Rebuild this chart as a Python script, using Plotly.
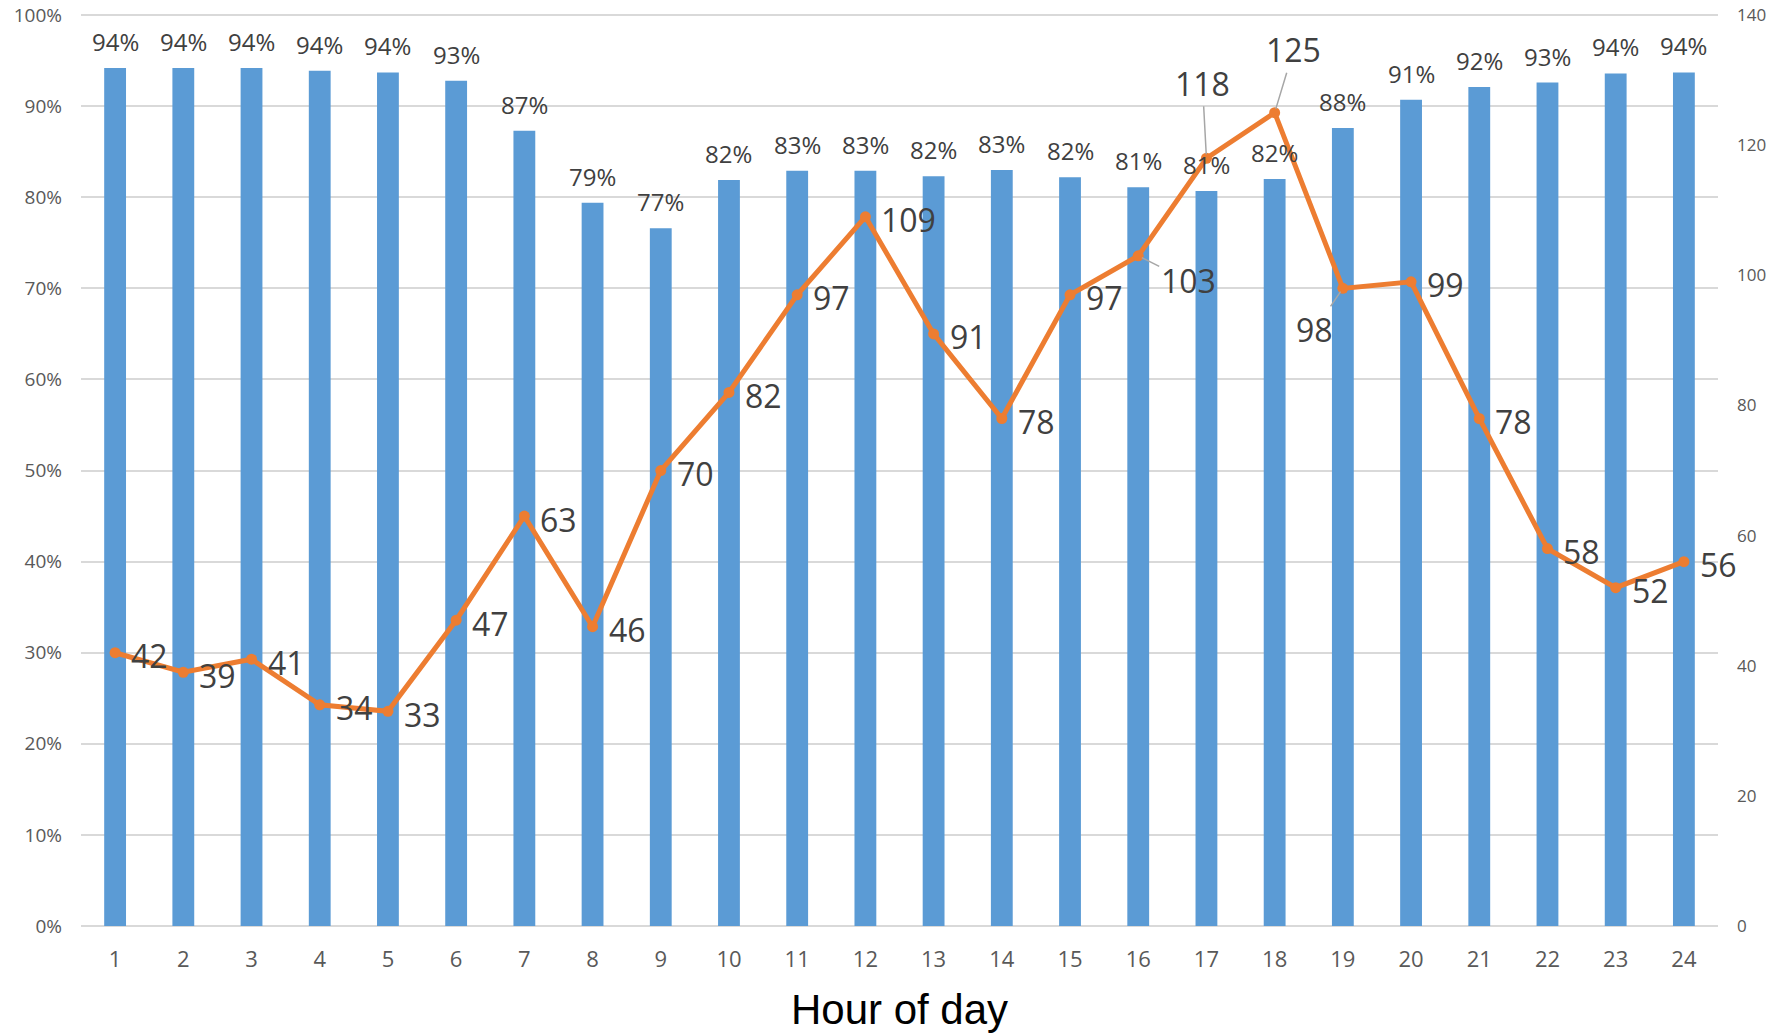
import plotly.graph_objects as go

hours = list(range(1, 25))
share = [0.942, 0.942, 0.942, 0.939, 0.937, 0.928, 0.873, 0.794, 0.766, 0.819, 0.829, 0.829,
         0.823, 0.830, 0.822, 0.811, 0.807, 0.820, 0.876, 0.907, 0.921, 0.926, 0.936, 0.937]
counts = [42, 39, 41, 34, 33, 47, 63, 46, 70, 82, 97, 109, 91, 78, 97, 103, 118, 125, 98, 99, 78, 58, 52, 56]
x_title = "Hour of day"
pct_ticks = [0, 0.1, 0.2, 0.3, 0.4, 0.5, 0.6, 0.7, 0.8, 0.9, 1.0]
pct_labels = ["0%", "10%", "20%", "30%", "40%", "50%", "60%", "70%", "80%", "90%", "100%"]
count_ticks = [0, 20, 40, 60, 80, 100, 120, 140]

BAR = "#5B9BD5"
LINE = "#ED7D31"
GRID = "#D9D9D9"
TXT = "#404040"
TICK = "#595959"
FONT = "Open Sans"

fig = go.Figure()
fig.add_trace(go.Bar(x=hours, y=share, marker=dict(color=BAR, line=dict(width=0)),
                     width=0.32, yaxis="y", showlegend=False))
fig.add_trace(go.Scatter(x=hours, y=counts, mode="lines+markers", yaxis="y2",
                         line=dict(color=LINE, width=5),
                         marker=dict(color=LINE, size=11), showlegend=False))

ann = []
for h, v in zip(hours, share):
    ann.append(dict(x=h, y=v, xref="x", yref="y", text=f"{round(v*100)}%",
                    showarrow=False, yanchor="bottom", xanchor="center", yshift=8,
                    font=dict(family=FONT, size=24, color=TXT)))

# leader-line labels (pixel offsets of label centre from point)
leaders = {16: (50, 25), 17: (-4, -75), 18: (19, -63), 19: (-28, 41)}
for h, c in zip(hours, counts):
    f = dict(family=FONT, size=32, color=TXT)
    if h in leaders:
        ax, ay = leaders[h]
        ann.append(dict(x=h, y=c, xref="x", yref="y2", text=str(c), showarrow=True,
                        ax=ax, ay=ay, arrowhead=0, arrowwidth=1.5, arrowcolor="#A6A6A6",
                        standoff=4, font=f))
    else:
        ann.append(dict(x=h, y=c, xref="x", yref="y2", text=str(c), showarrow=False,
                        xanchor="left", yanchor="middle", xshift=14, yshift=-3, font=f))

fig.update_layout(
    width=1767, height=1033,
    margin=dict(l=81, r=49, t=14, b=107),
    paper_bgcolor="white", plot_bgcolor="white",
    annotations=ann,
    xaxis=dict(range=[0.5, 24.5], tickmode="array", tickvals=hours,
               ticktext=[str(h) for h in hours], showgrid=False, zeroline=False,
               showline=False, ticks="", automargin=False,
               tickfont=dict(family=FONT, size=22, color=TICK), ticklabelstandoff=18,
               title=dict(text=x_title, font=dict(family="Liberation Sans", size=42, color="black"),
                          standoff=26)),
    yaxis=dict(range=[0, 1.0012], tickmode="array", tickvals=pct_ticks, ticktext=pct_labels,
               showgrid=True, automargin=False,
               gridcolor=GRID, gridwidth=1.5, zeroline=True, zerolinecolor=GRID, zerolinewidth=1.5,
               showline=False, ticks="",
               tickfont=dict(family=FONT, size=19, color=TICK), ticklabelstandoff=18),
    yaxis2=dict(range=[0, 140.168], tickmode="array", tickvals=count_ticks,
                ticktext=[str(t) for t in count_ticks], overlaying="y", side="right", showgrid=False,
                zeroline=False, showline=False, ticks="", automargin=False,
                tickfont=dict(family=FONT, size=17, color=TICK), ticklabelstandoff=18),
)

fig.write_html("out.html", config={"displayModeBar": False},
               post_script="document.body.style.margin='0';")
